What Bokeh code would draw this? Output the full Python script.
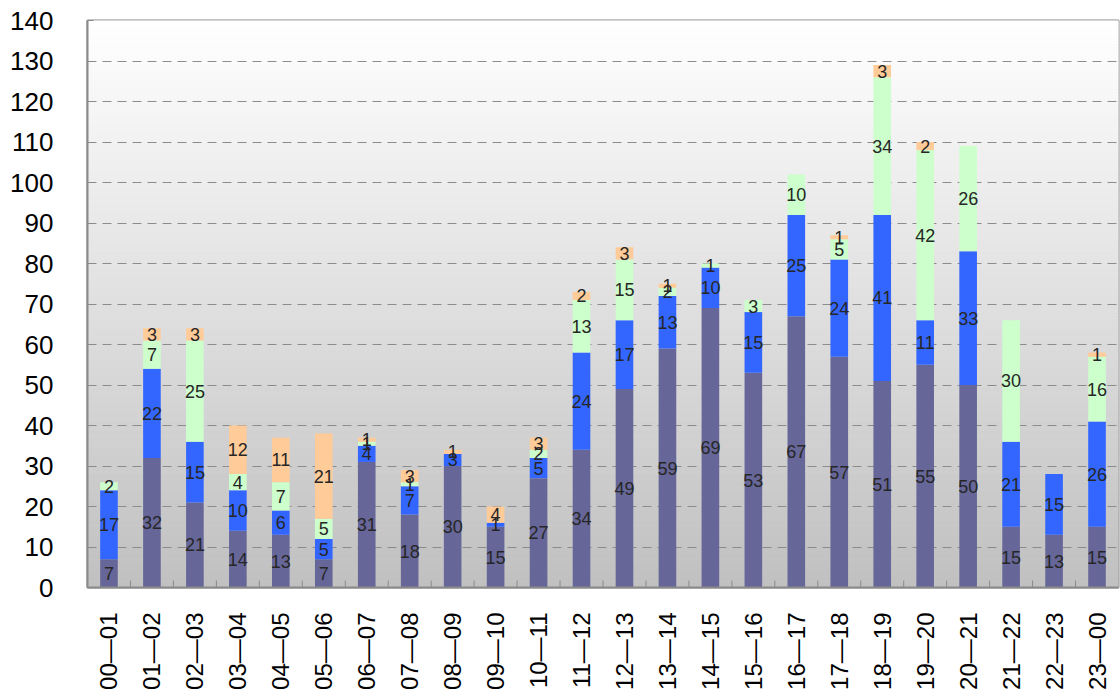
import numpy as np
from math import pi
from bokeh.plotting import figure
from bokeh.models import FactorRange, Range1d, ColumnDataSource, FixedTicker
from bokeh.embed import file_html
from bokeh.resources import INLINE
from bokeh.core.properties import value

hours = ["00—01", "01—02", "02—03", "03—04", "04—05", "05—06", "06—07", "07—08",
         "08—09", "09—10", "10—11", "11—12", "12—13", "13—14", "14—15", "15—16",
         "16—17", "17—18", "18—19", "19—20", "20—21", "21—22", "22—23", "23—00"]
s1 = [7, 32, 21, 14, 13, 7, 31, 18, 30, 15, 27, 34, 49, 59, 69, 53, 67, 57, 51, 55, 50, 15, 13, 15]
s2 = [17, 22, 15, 10, 6, 5, 4, 7, 3, 1, 5, 24, 17, 13, 10, 15, 25, 24, 41, 11, 33, 21, 15, 26]
s3 = [2, 7, 25, 4, 7, 5, 1, 1, 0, 0, 2, 13, 15, 2, 1, 3, 10, 5, 34, 42, 26, 30, 0, 16]
s4 = [0, 3, 3, 12, 11, 21, 1, 3, 1, 4, 3, 2, 3, 1, 0, 0, 0, 1, 3, 2, 0, 0, 0, 1]
series_names = ["s1", "s2", "s3", "s4"]
series_colors = ["#666699", "#3366FF", "#CCFFCC", "#FFCC99"]
y_ticks = list(range(0, 141, 10))

FONT = "Liberation Sans"

p = figure(x_range=FactorRange(factors=hours, range_padding=0),
           y_range=Range1d(0, 140),
           width=1120, height=693, output_backend="svg", toolbar_location=None,
           min_border_left=87, min_border_right=2, min_border_top=20, min_border_bottom=106)
p.background_fill_color = "white"
p.border_fill_color = "white"
p.outline_line_color = "#8a8a8a"
p.outline_line_width = 2

# vertical gradient background (white at top to grey at bottom)
n = 200
edges = np.linspace(0, 140, n + 1)
shade = np.round(np.linspace(192, 255, n)).astype(int)
gcols = ["#%02x%02x%02x" % (v, v, v) for v in shade]
grad = p.quad(left=[(hours[0], -0.5)] * n, right=[(hours[-1], 0.5)] * n,
              bottom=edges[:-1], top=edges[1:], fill_color=gcols, line_color=gcols,
              line_width=1)
grad.level = "image"

src = ColumnDataSource(dict(x=hours, s1=s1, s2=s2, s3=s3, s4=s4))
p.vbar_stack(series_names, x="x", width=0.41, color=series_colors, line_color=None, source=src)

# segment labels
arr = np.array([s1, s2, s3, s4], dtype=float)
cum = np.cumsum(arr, axis=0)
lx, ly, lt = [], [], []
for k in range(arr.shape[0]):
    for i, h in enumerate(hours):
        v = arr[k, i]
        if v > 0:
            lx.append(h)
            ly.append(cum[k, i] - v / 2.0)
            lt.append(str(int(v)))
p.text(x=lx, y=ly, text=lt, text_align="center", text_baseline="middle",
       text_font=value(FONT), text_font_size="18px", text_color="#262626")

# category boundary tick marks (inside)
p.ray(x=[(h, 0.5) for h in hours[:-1]], y=[0] * (len(hours) - 1), length=7,
      length_units="screen", angle=pi / 2, line_color="#8a8a8a", line_width=1)

p.xgrid.visible = False
p.ygrid.grid_line_color = "#8c8c8c"
p.ygrid.grid_line_dash = "9 6"
p.ygrid.grid_line_width = 1

p.yaxis.ticker = FixedTicker(ticks=y_ticks)
p.yaxis.major_tick_in = 6
p.yaxis.major_tick_out = 0
p.yaxis.major_tick_line_color = "#8a8a8a"
p.yaxis.minor_tick_line_color = None
p.yaxis.axis_line_color = "#8a8a8a"
p.yaxis.axis_line_width = 2
p.yaxis.major_label_standoff = 34
p.yaxis.major_label_text_font = FONT
p.yaxis.major_label_text_font_size = "26px"
p.yaxis.major_label_text_color = "black"

p.xaxis.major_tick_in = 0
p.xaxis.major_tick_out = 0
p.xaxis.axis_line_color = "#8a8a8a"
p.xaxis.axis_line_width = 2
p.xaxis.major_label_orientation = pi / 2
p.xaxis.major_label_standoff = 25
p.xaxis.major_label_text_font = FONT
p.xaxis.major_label_text_font_size = "24px"
p.xaxis.major_label_text_color = "black"

open("out.html", "w").write(file_html(p, INLINE))
